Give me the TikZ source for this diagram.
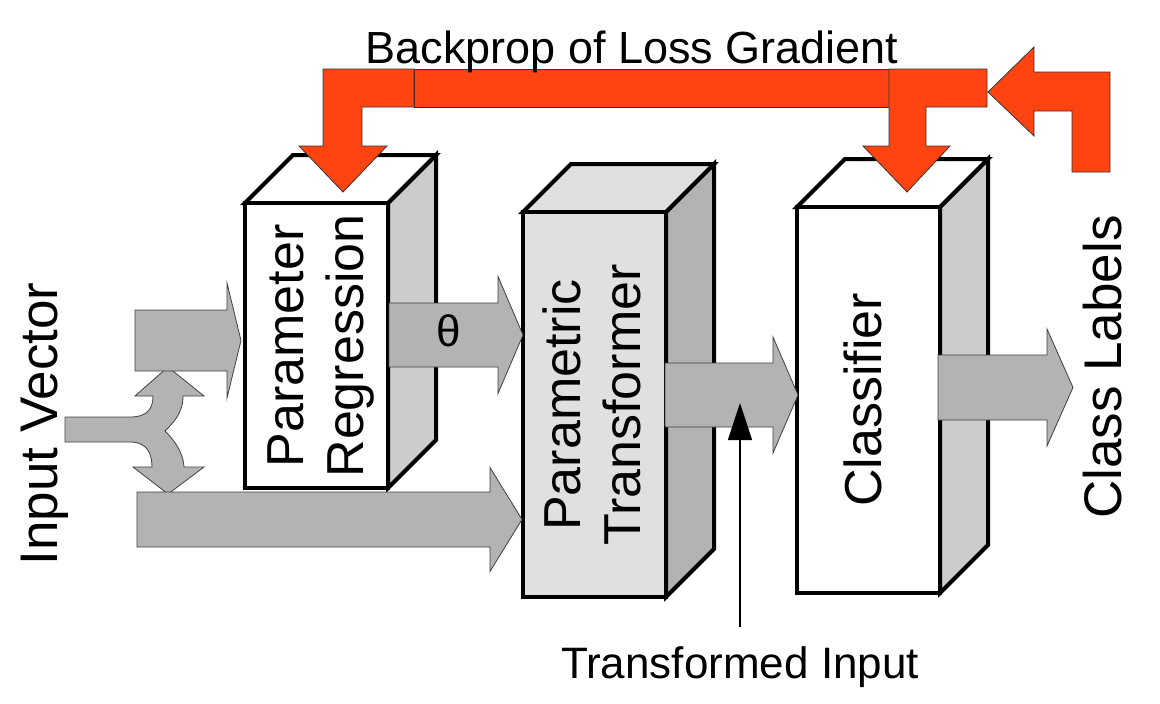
\documentclass[tikz,border=0pt]{standalone}
\usepackage{fontspec}
\setmainfont{Liberation Sans}
\usetikzlibrary{arrows.meta}

\definecolor{backred}{RGB}{255,68,17}
\definecolor{flowgray}{RGB}{179,179,179}
\definecolor{sidegray}{RGB}{204,204,204}
\definecolor{palegray}{RGB}{224,224,224}

% left, top, right, bottom, front colour, side colour
\newcommand{\cuboid}[6]{
        \draw[edge, fill=#6] (#3,#2) -- (#3+48,#2-48) -- (#3+48,#4-48) -- (#3,#4) -- cycle;
        \draw[edge, fill=#5] (#1,#2) -- (#1+48,#2-48) -- (#3+48,#2-48) -- (#3,#2) -- cycle;
        \draw[edge, fill=#5] (#1,#2) rectangle (#3,#4);
    }
% tail x, mid y, half shaft, head x, half head, tip x
\newcommand{\flowE}[6]{\draw[flow] (#1,#2-#3) -- (#4,#2-#3) -- (#4,#2-#5) -- (#6,#2) -- (#4,#2+#5) -- (#4,#2+#3) -- (#1,#2+#3) -- cycle;}

\begin{document}
\begin{tikzpicture}
                [x=1pt, y=-1pt,
                edge/.style={draw=black, line width=4pt, line join=miter},
                flow/.style={draw=black!75, line width=0.8pt, fill=flowgray},
                back/.style={draw=black!80, line width=0.8pt, fill=backred},
                boxtext/.style={rotate=90, inner sep=0pt, align=center, font=\fontsize{52}{60}\selectfont},
                sidetext/.style={rotate=90, anchor=base, inner sep=0pt, font=\fontsize{53}{60}\selectfont},
                caption/.style={anchor=base, inner sep=0pt, font=\fontsize{44}{50}\selectfont},
                pointer/.style={-{Triangle[width=24pt, length=37pt]}, line width=1.3pt},
                ]
                \useasboundingbox (0,0) rectangle (1160,704);
                \cuboid{245}{203}{388}{488}{white}{sidegray}
                \cuboid{523}{212}{666}{597}{palegray}{flowgray}
                \cuboid{797}{207}{940}{593}{white}{sidegray}
                \node[boxtext] (regr) at (321,346) {Parameter\\Regression};
                \node[boxtext] (trans) at (592,405) {Parametric\\Transformer};
                \node[boxtext] (clf) at (863,400) {Classifier};

                % input split
                \draw[flow] (65,417) -- (130,417) .. controls (148,417) and (153,408) .. (153,396)
                    -- (135,396) -- (168,367) -- (204,396) -- (183,396)
                    .. controls (183,414) and (172,424) .. (165,431)
                    .. controls (172,438) and (183,450) .. (184,467)
                    -- (204,467) -- (168,494) -- (133,467) -- (152,467)
                    .. controls (152,455) and (148,442) .. (130,442) -- (65,442) -- cycle;
                \flowE{135}{340.5}{30.5}{227}{57.5}{241}
                \flowE{137}{519.5}{27.5}{490}{52}{522}
                \flowE{389}{335}{32}{498}{58.5}{523}
                \flowE{665}{395}{32}{773}{58}{798}
                \flowE{938}{387.5}{32.5}{1047}{58.5}{1073}
                \node[caption] (theta) at (449,346) {θ};

                % backprop
                \draw[back] (414,69) -- (323,69) -- (323,146) -- (299,146) -- (343,192) -- (387,146)
                    -- (362,146) -- (362,107) -- (414,107) -- cycle;
                \draw[back] (414,69) rectangle (889,107);
                \draw[back] (889,69) -- (987,69) -- (987,107) -- (926,107) -- (926,146) -- (950,146)
                    -- (907,192) -- (863,146) -- (889,146) -- cycle;
                \draw[back] (988,92) -- (1034,47) -- (1034,72) -- (1110,72) -- (1110,172) -- (1072,172)
                    -- (1072,111) -- (1034,111) -- (1034,136) -- cycle;
                \node[caption, font=\fontsize{45}{50}\selectfont] (loss) at (632,63) {Backprop of Loss Gradient};

                \node[sidetext] (input) at (57,424) {Input Vector};
                \node[sidetext] (labels) at (1121,367) {Class Labels};

                \node[caption, inner ysep=0pt] (tinput) at (740,678) {Transformed Input};
                \coordinate (tinputtop) at (740,627);
                \coordinate (tinputtip) at (740,403);
                \draw[pointer] (tinputtop) -- (tinputtip);
            \end{tikzpicture}
\end{document}
